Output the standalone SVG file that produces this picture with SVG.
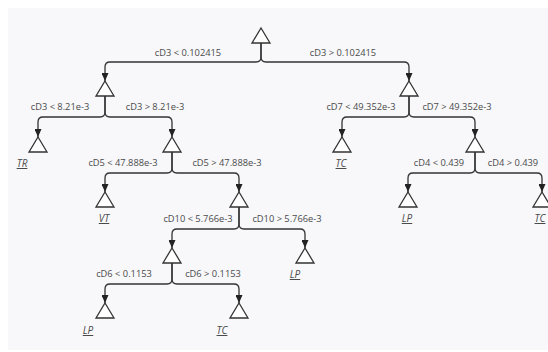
<svg xmlns="http://www.w3.org/2000/svg" width="548" height="352" viewBox="0 0 548 352">
  <defs>
    <style>
      .bg { fill: #f8f8fa; }
      .node { fill: #ffffff; stroke: #333333; stroke-width: 1.3; stroke-linejoin: miter; }
      .edge { fill: none; stroke: #333333; stroke-width: 1.3; marker-end: url(#arrow); }
      .lbl { font-family: "Open Sans", "Noto Sans", sans-serif; font-size: 9.3px; fill: #4a4a4a; text-anchor: middle; }
      .leaf { font-family: "Open Sans", "Noto Sans", sans-serif; font-size: 10px; fill: #4a4a4a; text-anchor: middle; font-style: italic; text-decoration: underline; }
    </style>
    <marker id="arrow" viewBox="0 0 8 7" refX="8" refY="3.5" markerWidth="8" markerHeight="7" markerUnits="userSpaceOnUse" orient="auto">
      <path d="M0,0 L8,3.5 L0,7 Z" fill="#222222"/>
    </marker>
    <!-- decision / leaf glyph: apex at (0,0) -->
    <polygon id="tri" points="0,0 9,15 -9,15"/>
  </defs>

  <rect class="bg" x="8" y="8" width="540" height="342"/>

  <!-- connectors: stem from parent base, across, down to child apex -->
  <g id="connectors">
    <path class="edge" d="M261,43 V57 Q261,62 256,62 H110 Q105,62 105,67 V81"/>
    <path class="edge" d="M261,43 V57 Q261,62 266,62 H404 Q409,62 409,67 V81"/>

    <path class="edge" d="M105,96 V112 Q105,117 100,117 H43 Q38,117 38,122 V137"/>
    <path class="edge" d="M105,96 V112 Q105,117 110,117 H167 Q172,117 172,122 V137"/>

    <path class="edge" d="M409,96 V112 Q409,117 404,117 H347 Q342,117 342,122 V137"/>
    <path class="edge" d="M409,96 V112 Q409,117 414,117 H470 Q475,117 475,122 V137"/>

    <path class="edge" d="M172,152 V168 Q172,173 167,173 H110 Q105,173 105,178 V192"/>
    <path class="edge" d="M172,152 V168 Q172,173 177,173 H234 Q239,173 239,178 V192"/>

    <path class="edge" d="M475,152 V168 Q475,173 470,173 H413 Q408,173 408,178 V192"/>
    <path class="edge" d="M475,152 V168 Q475,173 480,173 H537 Q542,173 542,178 V192"/>

    <path class="edge" d="M239,207 V224 Q239,229 234,229 H177 Q172,229 172,234 V248"/>
    <path class="edge" d="M239,207 V224 Q239,229 244,229 H300 Q305,229 305,234 V248"/>

    <path class="edge" d="M172,263 V279 Q172,284 167,284 H110 Q105,284 105,289 V303"/>
    <path class="edge" d="M172,263 V279 Q172,284 177,284 H234 Q239,284 239,289 V303"/>
  </g>

  <!-- branch conditions -->
  <g id="conditions">
    <text class="lbl" x="188" y="55.5">cD3 &lt; 0.102415</text>
    <text class="lbl" x="343" y="55.5">cD3 &gt; 0.102415</text>
    <text class="lbl" x="60" y="110">cD3 &lt; 8.21e-3</text>
    <text class="lbl" x="155" y="110">cD3 &gt; 8.21e-3</text>
    <text class="lbl" x="361" y="110">cD7 &lt; 49.352e-3</text>
    <text class="lbl" x="457" y="110">cD7 &gt; 49.352e-3</text>
    <text class="lbl" x="123" y="166">cD5 &lt; 47.888e-3</text>
    <text class="lbl" x="227" y="166">cD5 &gt; 47.888e-3</text>
    <text class="lbl" x="439" y="166">cD4 &lt; 0.439</text>
    <text class="lbl" x="513" y="166">cD4 &gt; 0.439</text>
    <text class="lbl" x="198" y="222">cD10 &lt; 5.766e-3</text>
    <text class="lbl" x="287" y="222">cD10 &gt; 5.766e-3</text>
    <text class="lbl" x="124" y="277">cD6 &lt; 0.1153</text>
    <text class="lbl" x="213" y="277">cD6 &gt; 0.1153</text>
  </g>

  <g id="n0"><use href="#tri" class="node" x="261" y="28"/></g>
  <g id="n1"><use href="#tri" class="node" x="105" y="81"/></g>
  <g id="n2"><use href="#tri" class="node" x="409" y="81"/></g>
  <g id="n3"><use href="#tri" class="node" x="38" y="137"/><text class="leaf" x="22" y="167">TR</text></g>
  <g id="n4"><use href="#tri" class="node" x="172" y="137"/></g>
  <g id="n5"><use href="#tri" class="node" x="342" y="137"/><text class="leaf" x="341" y="167">TC</text></g>
  <g id="n6"><use href="#tri" class="node" x="475" y="137"/></g>
  <g id="n7"><use href="#tri" class="node" x="105" y="192"/><text class="leaf" x="104" y="222">VT</text></g>
  <g id="n8"><use href="#tri" class="node" x="239" y="192"/></g>
  <g id="n9"><use href="#tri" class="node" x="408" y="192"/><text class="leaf" x="407" y="222">LP</text></g>
  <g id="n10"><use href="#tri" class="node" x="542" y="192"/><text class="leaf" x="540" y="222">TC</text></g>
  <g id="n11"><use href="#tri" class="node" x="172" y="248"/></g>
  <g id="n12"><use href="#tri" class="node" x="305" y="248"/><text class="leaf" x="295" y="278">LP</text></g>
  <g id="n13"><use href="#tri" class="node" x="105" y="303"/><text class="leaf" x="88" y="334">LP</text></g>
  <g id="n14"><use href="#tri" class="node" x="239" y="303"/><text class="leaf" x="222" y="334">TC</text></g>
</svg>
